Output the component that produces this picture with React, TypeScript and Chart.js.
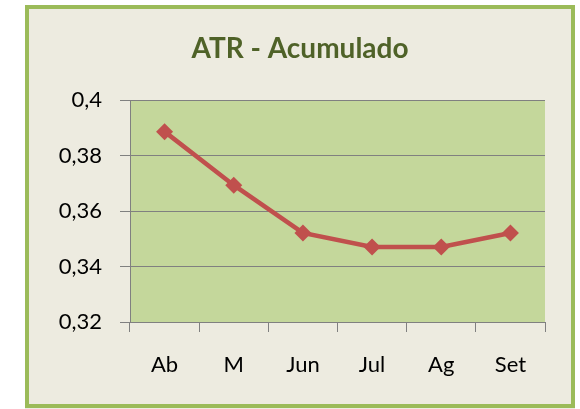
import React, { useEffect, useRef } from "react";
import { Chart, registerables } from "chart.js";

Chart.register(...registerables);

const categories = ["Ab", "M", "Jun", "Jul", "Ag", "Set"];
const atrValues = [0.3886, 0.3693, 0.3521, 0.347, 0.347, 0.3521];
const yMin = 0.32;
const yMax = 0.4;
const yStep = 0.02;
const titleText = "ATR - Acumulado";

const fmt = (v: number) => String(Number(v.toFixed(2))).replace(".", ",");

const framePlugin = {
  id: "frameAndTitle",
  beforeDraw(chart: any) {
    const { ctx, chartArea } = chart;
    ctx.save();
    ctx.fillStyle = "#ffffff";
    ctx.fillRect(0, 0, chart.width, chart.height);
    ctx.fillStyle = "#EDEBE0";
    ctx.fillRect(25, 5, 550, 404);
    ctx.strokeStyle = "#9BBB59";
    ctx.lineWidth = 4;
    ctx.strokeRect(27, 7, 546, 399);
    ctx.fillStyle = "#C4D79B";
    ctx.fillRect(chartArea.left, chartArea.top, chartArea.right - chartArea.left, chartArea.bottom - chartArea.top);
    ctx.restore();
  },
  afterDraw(chart: any) {
    const { ctx } = chart;
    ctx.save();
    ctx.font = "bold 28px Lato";
    ctx.fillStyle = "#4F6228";
    ctx.textAlign = "center";
    ctx.textBaseline = "alphabetic";
    ctx.fillText(titleText, 300, 58);
    ctx.restore();
  },
};

export default function App() {
  const ref = useRef<HTMLCanvasElement>(null);
  useEffect(() => {
    if (!ref.current) return;
    const chart = new Chart(ref.current, {
      type: "line",
      data: {
        labels: categories,
        datasets: [
          {
            data: atrValues,
            borderColor: "#C0504D",
            backgroundColor: "#C0504D",
            borderWidth: 4.5,
            pointStyle: "rectRot",
            pointRadius: 8.5,
            pointBorderWidth: 0,
            pointBackgroundColor: "#C0504D",
            tension: 0,
          },
        ],
      },
      options: {
        responsive: false,
        animation: false,
        layout: { padding: { top: 100, right: 35, left: 0, bottom: 0 } },
        plugins: { legend: { display: false }, title: { display: false }, tooltip: { enabled: false } },
        scales: {
          x: {
            offset: true,
            grid: { offset: true, drawOnChartArea: false, color: "#808080", tickLength: 10, tickWidth: 1 },
            border: { color: "#808080", width: 1 },
            ticks: { font: { family: "Lato", size: 22 }, color: "#000000", padding: 20, maxRotation: 0 },
            afterFit: (axis: any) => {
              axis.height = 87;
            },
          },
          y: {
            min: yMin,
            max: yMax,
            grid: { color: "#808080", tickLength: 10 },
            border: { color: "#808080", width: 1 },
            ticks: {
              stepSize: yStep,
              font: { family: "Lato", size: 22 },
              color: "#000000",
              padding: 18,
              callback: (v: any) => fmt(Number(v)),
            },
            afterFit: (axis: any) => {
              axis.width = 130;
            },
          },
        },
      },
      plugins: [framePlugin],
    });
    return () => chart.destroy();
  }, []);
  return (
    <div style={{ position: "fixed", left: 0, top: 0, width: 580, height: 409 }}>
      <canvas ref={ref} width={580} height={409} style={{ display: "block" }} />
    </div>
  );
}
